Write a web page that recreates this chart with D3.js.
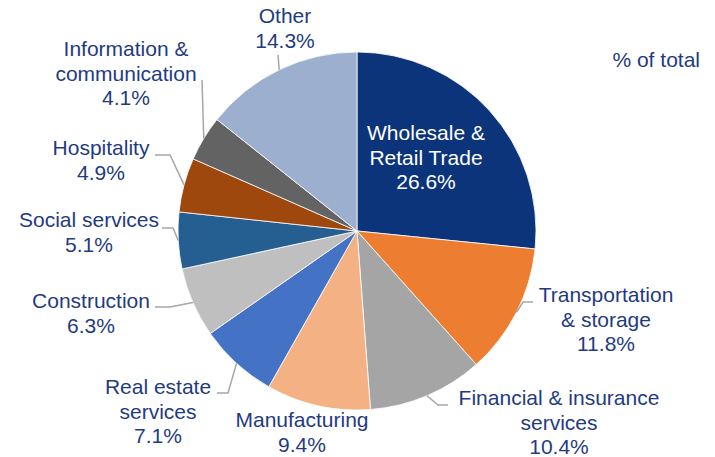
<!DOCTYPE html>
<html>
<head>
<meta charset="utf-8">
<script src="https://cdn.jsdelivr.net/npm/d3@7"></script>
<style>
  body { margin: 0; background: #fff; }
  text { font-family: "Liberation Sans", Arial, sans-serif; font-size: 21px; fill: #1f3b82; }
</style>
</head>
<body>
<svg id="chart" width="715" height="457"></svg>
<script>
// sectors, clockwise from 12 o'clock
const sectors = [
  "Wholesale & Retail Trade", "Transportation & storage", "Financial & insurance services",
  "Manufacturing", "Real estate services", "Construction", "Social services",
  "Hospitality", "Information & communication", "Other"
];
const shares = [26.6, 11.8, 10.4, 9.4, 7.1, 6.3, 5.1, 4.9, 4.1, 14.3];
const labelLines = [
  ["Wholesale &", "Retail Trade"],
  ["Transportation", "& storage"],
  ["Financial & insurance", "services"],
  ["Manufacturing"],
  ["Real estate", "services"],
  ["Construction"],
  ["Social services"],
  ["Hospitality"],
  ["Information &", "communication"],
  ["Other"]
];
const colors = [
  "#0b347a", "#ed7d31", "#a5a5a5", "#f4b183", "#4472c4",
  "#bfbfbf", "#255e91", "#9e480e", "#636363", "#9dafcf"
];

// label layout: text centre x, first baseline y, leader bend points (after slice anchor)
const layout = [
  { x: 426, y: 140, leader: null },
  { x: 606, y: 302, leader: [[523, 302], [533, 302]] },
  { x: 559, y: 405, leader: [[438, 405], [448, 405]] },
  { x: 302, y: 427, leader: null },
  { x: 158, y: 394, leader: [[228, 393], [217, 393]] },
  { x: 91, y: 308, leader: [[170, 307], [155, 307]] },
  { x: 89, y: 227, leader: [[173, 228], [162, 228]] },
  { x: 101, y: 155, leader: [[170, 155], [155, 155]] },
  { x: 126, y: 56, leader: [[202, 80]] },
  { x: 285, y: 23, leader: [[278, 55]] }
];

const svg = d3.select("#chart");
const cx = 357, cy = 231, radius = 179;
const lineH = 24.5;

const pie = d3.pie().sort(null).value(function(d) { return d; });
const arcs = pie(shares);
const arc = d3.arc().innerRadius(0).outerRadius(radius);
const edge = d3.arc().innerRadius(radius).outerRadius(radius);

const g = svg.append("g").attr("transform", "translate(" + cx + "," + cy + ")");

g.selectAll("path.slice")
  .data(arcs)
  .enter()
  .append("path")
  .attr("class", "slice")
  .attr("d", arc)
  .attr("fill", function(d, i) { return colors[i]; })
  .attr("stroke", "#fff")
  .attr("stroke-width", 0.8);

// leader lines
arcs.forEach(function(d, i) {
  const lay = layout[i];
  if (!lay.leader) return;
  const c = edge.centroid(d);
  const pts = [[cx + c[0], cy + c[1]]].concat(lay.leader);
  svg.append("path")
    .attr("d", d3.line()(pts))
    .attr("fill", "none")
    .attr("stroke", "#a6a6a6")
    .attr("stroke-width", 1.5);
});

// labels
arcs.forEach(function(d, i) {
  const lay = layout[i];
  const lines = labelLines[i].concat([shares[i].toFixed(1) + "%"]);
  const t = svg.append("text")
    .attr("text-anchor", "middle")
    .style("fill", i === 0 ? "#ffffff" : null);
  lines.forEach(function(s, k) {
    t.append("tspan")
      .attr("x", lay.x)
      .attr("y", lay.y + k * lineH)
      .text(s);
  });
});

svg.append("text")
  .attr("x", 700)
  .attr("y", 67)
  .attr("text-anchor", "end")
  .text("% of total");
</script>
</body>
</html>
